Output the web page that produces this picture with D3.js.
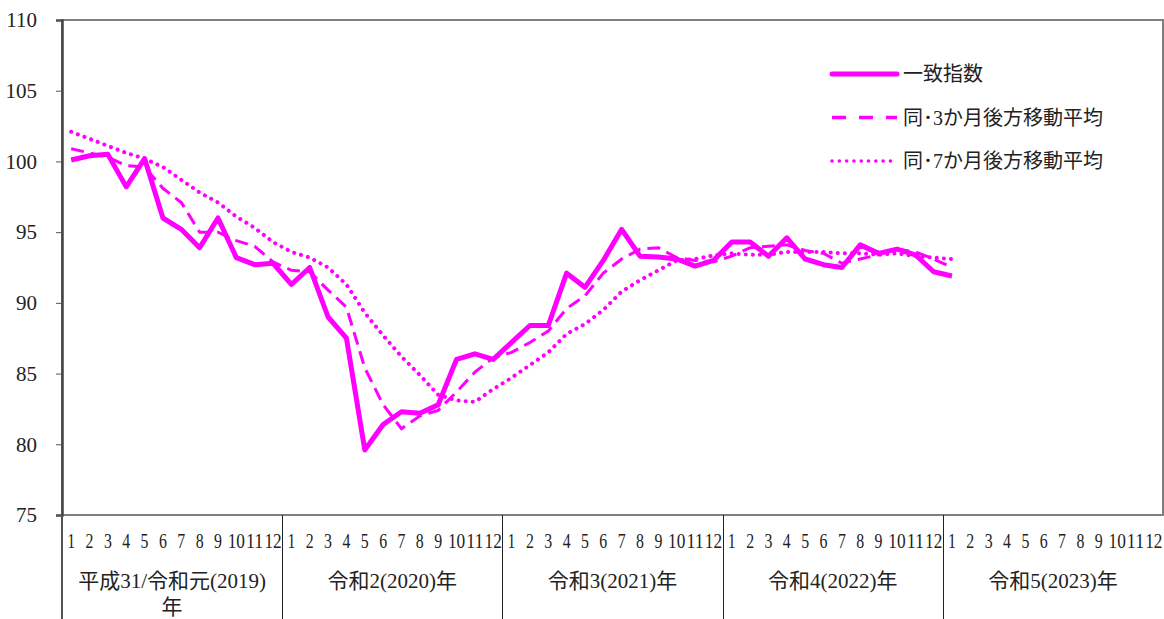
<!DOCTYPE html>
<html>
<head>
<meta charset="utf-8">
<script src="https://cdn.jsdelivr.net/npm/d3@7"></script>
<style>
  body { margin: 0; background: #fff; }
  svg { display: block; }
</style>
</head>
<body>
<svg id="chart" width="1164" height="619"></svg>
<script>
// years shown on the axis, each has 12 months
var years = ["平成31/令和元(2019)|年", "令和2(2020)年", "令和3(2021)年", "令和4(2022)年", "令和5(2023)年"];
var monthLabels = ["1","2","3","4","5","6","7","8","9","10","11","12"];
var yTicks = [75, 80, 85, 90, 95, 100, 105, 110];

// 一致指数 (2019/1 .. 2023/1)
var coincident = [
  100.1, 100.4, 100.5, 98.2, 100.2, 96.0, 95.2, 93.9, 96.0, 93.2, 92.7, 92.8,
  91.3, 92.5, 89.0, 87.5, 79.6, 81.4, 82.3, 82.2, 82.8, 86.0, 86.4, 86.0,
  87.2, 88.4, 88.4, 92.1, 91.1, 93.0, 95.2, 93.3, 93.25, 93.1, 92.6, 93.0,
  94.3, 94.3, 93.3, 94.6, 93.1, 92.7, 92.5, 94.1, 93.5, 93.8, 93.4, 92.2,
  91.9
];
// 同・3か月後方移動平均
var ma3 = [
  100.9, 100.6, 100.3, 99.7, 99.6, 98.1, 97.1, 95.0, 95.0, 94.4, 94.0, 92.9,
  92.3, 92.2, 90.9, 89.7, 85.4, 82.8, 81.1, 82.0, 82.4, 83.7, 85.1, 86.1,
  86.5, 87.2, 88.0, 89.6, 90.5, 92.1, 93.1, 93.8, 93.9, 93.2, 93.0, 92.9,
  93.3, 93.9, 94.0, 94.1, 93.7, 93.5, 92.8, 93.1, 93.4, 93.8, 93.6, 93.1,
  92.5
];
// 同・7か月後方移動平均
var ma7 = [
  102.1, 101.6, 101.1, 100.6, 100.2, 99.6, 98.7, 97.8, 97.1, 96.1, 95.3, 94.3,
  93.6, 93.2, 92.5, 91.3, 89.3, 87.7, 86.2, 84.9, 83.5, 83.1, 83.0, 83.9,
  84.7, 85.6, 86.5, 87.8, 88.5, 89.5, 90.8, 91.6, 92.3, 93.0, 93.1, 93.35,
  93.5, 93.4, 93.4, 93.6, 93.6, 93.6, 93.5, 93.5, 93.4, 93.5, 93.3, 93.2,
  93.1
];

var color = "#ff00ff";
var serif = "'Liberation Serif', 'DejaVu Serif', 'Noto Sans CJK JP', serif";
var plotL = 62, plotR = 1163, plotT = 20, plotB = 515;

var svg = d3.select("#chart");

var months = d3.range(years.length * 12);
var x = d3.scaleBand().domain(months).range([plotL, plotR]);
var y = d3.scaleLinear().domain([75, 110]).range([plotB, plotT]);
var cx = function(i) { return x(i) + x.bandwidth() / 2; };

// plot frame
svg.append("rect")
  .attr("x", plotL).attr("y", plotT)
  .attr("width", plotR - plotL).attr("height", plotB - plotT)
  .attr("fill", "none").attr("stroke", "#808080").attr("stroke-width", 2);

// y axis
var yAxis = svg.append("g")
  .attr("transform", "translate(" + plotL + ",0)")
  .call(d3.axisLeft(y).tickValues(yTicks).tickSize(6).tickPadding(19));
yAxis.select(".domain").attr("stroke", "#444").attr("stroke-width", 2.5);
yAxis.selectAll(".tick line").attr("stroke", "#555");
yAxis.selectAll(".tick text")
  .style("font-family", serif)
  .style("font-size", "21px")
  .attr("fill", "#222");

// category area lines
svg.append("line")
  .attr("x1", plotL).attr("x2", plotL).attr("y1", plotB).attr("y2", 619)
  .attr("stroke", "#555").attr("stroke-width", 2);
svg.selectAll(".ydiv").data(d3.range(1, years.length))
  .enter().append("line")
  .attr("x1", function(d) { return Math.round(x(d * 12)) + 0.5; })
  .attr("x2", function(d) { return Math.round(x(d * 12)) + 0.5; })
  .attr("y1", plotB).attr("y2", 619)
  .attr("stroke", "#222").attr("stroke-width", 1);

// month labels (narrow, as in the original)
svg.selectAll(".mlab").data(months)
  .enter().append("text")
  .attr("transform", function(i) { return "translate(" + cx(i) + ",548) scale(0.72,1)"; })
  .attr("text-anchor", "middle")
  .style("font-family", serif)
  .style("font-size", "22px")
  .attr("fill", "#222")
  .each(function(i) {
    var t = monthLabels[i % 12];
    var el = d3.select(this).text(t);
    if (t.length > 1) el.attr("textLength", 24).attr("lengthAdjust", "spacingAndGlyphs");
  });

// year labels
years.forEach(function(label, k) {
  var mid = (x(k * 12) + x(k * 12 + 11) + x.bandwidth()) / 2;
  label.split("|").forEach(function(line, j) {
    svg.append("text")
      .attr("x", mid).attr("y", 588 + j * 26)
      .attr("text-anchor", "middle")
      .style("font-family", serif)
      .style("font-size", "21px")
      .attr("fill", "#222")
      .text(line);
  });
});

// series
var line = d3.line()
  .x(function(d, i) { return cx(i); })
  .y(function(d) { return y(d); });

svg.append("path").datum(ma7)
  .attr("d", line).attr("fill", "none")
  .attr("stroke", color).attr("stroke-width", 4)
  .attr("stroke-linecap", "round")
  .attr("stroke-dasharray", "0.1,7");

svg.append("path").datum(ma3)
  .attr("d", line).attr("fill", "none")
  .attr("stroke", color).attr("stroke-width", 3)
  .attr("stroke-dasharray", "13,7");

svg.append("path").datum(coincident)
  .attr("d", line).attr("fill", "none")
  .attr("stroke", color).attr("stroke-width", 5)
  .attr("stroke-linejoin", "round");

// legend
var legend = [
  { name: "一致指数", w: 5, dash: null, cap: "round" },
  { name: "同･3か月後方移動平均", w: 3.5, dash: "14,13", cap: "butt" },
  { name: "同･7か月後方移動平均", w: 3.5, dash: "0.1,7.2", cap: "round" }
];
legend.forEach(function(d, k) {
  var ly = 74 + k * 43.5;
  svg.append("line")
    .attr("x1", 832).attr("x2", 897).attr("y1", ly).attr("y2", ly)
    .attr("stroke", color).attr("stroke-width", d.w)
    .attr("stroke-linecap", d.cap)
    .attr("stroke-dasharray", d.dash);
  svg.append("text")
    .attr("x", 903).attr("y", ly + 7)
    .style("font-family", serif)
    .style("font-size", "20px")
    .attr("fill", "#222")
    .text(d.name);
});
</script>
</body>
</html>
